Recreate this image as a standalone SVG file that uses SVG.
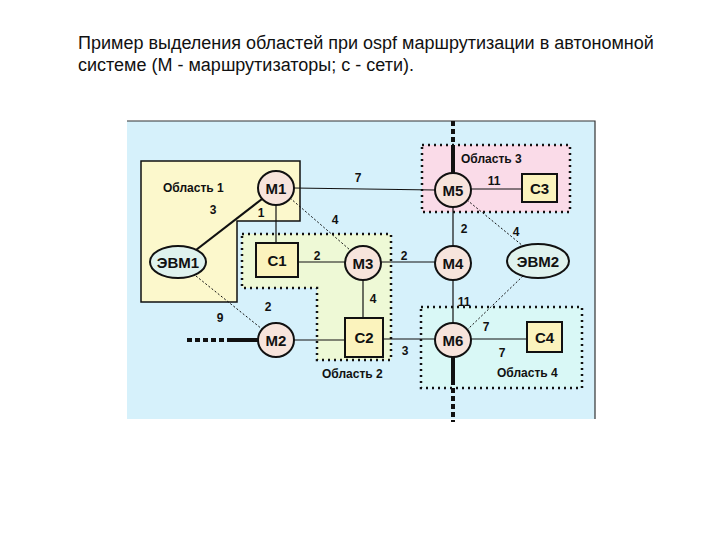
<svg xmlns="http://www.w3.org/2000/svg" width="720" height="540" viewBox="0 0 720 540">
<style>
.t{font-family:"Liberation Sans",Arial,sans-serif;font-size:18px;fill:#111}
.n{font-family:"Liberation Sans",Arial,sans-serif;font-size:15px;font-weight:bold;fill:#111;text-anchor:middle}
.l{font-family:"Liberation Sans",Arial,sans-serif;font-size:12px;font-weight:bold;fill:#111;text-anchor:middle}
.a{font-family:"Liberation Sans",Arial,sans-serif;font-size:12px;font-weight:bold;fill:#111}
.r{fill:#f7e4dc;stroke:#111;stroke-width:2}
.h{fill:#dff2ee;stroke:#111;stroke-width:2}
.c{fill:#fbf3bd;stroke:#111;stroke-width:2}
.ln{stroke:#111;stroke-width:1.2;fill:none}
.dt{stroke:#111;stroke-width:1;stroke-dasharray:2 2;fill:none}
.ar{stroke:#111;stroke-width:2.5;stroke-dasharray:2 4;fill:none}
</style>
<rect width="720" height="540" fill="#fff"/>
<text class="t" x="78" y="49">Пример выделения областей при ospf маршрутизации в автономной</text>
<text class="t" x="78" y="71">системе (М - маршрутизаторы; с - сети).</text>
<g id="panel">
<rect x="127" y="121" width="468" height="298" fill="#d6f1fb"/>
<path d="M127 121H595V419" fill="none" stroke="#333" stroke-width="1.2"/>
</g>
<g id="area1">
<path d="M141 161H300V221H237V302H141Z" fill="#fcf8cc" stroke="#111" stroke-width="1.5"/>
<text class="a" x="163" y="192">Область 1</text>
</g>
<g id="area2">
<path d="M242 234H391V360H317V288H242Z" fill="#eef9d6"/>
<path d="M242 234H391V360H317V288H242Z" class="ar"/>
<text class="a" x="322" y="378">Область 2</text>
</g>
<g id="area3">
<rect x="422" y="145" width="148" height="67" fill="#fadbe8"/>
<rect x="422" y="145" width="148" height="67" class="ar"/>
<text class="a" x="461" y="163">Область 3</text>
</g>
<g id="area4">
<rect x="421" y="307" width="161" height="81" fill="#d9f8f6"/>
<rect x="421" y="307" width="161" height="81" class="ar"/>
<text class="a" x="497" y="377">Область 4</text>
</g>
<g id="connectors">
<line class="ln" x1="294" y1="188" x2="435" y2="190"/>
<line x1="262" y1="199" x2="196" y2="250" stroke="#111" stroke-width="2.2"/>
<line class="ln" x1="276" y1="205" x2="276" y2="243"/>
<line class="dt" x1="290" y1="198" x2="350" y2="250"/>
<line class="ln" x1="298" y1="262" x2="345" y2="262"/>
<line class="ln" x1="381" y1="262" x2="435" y2="262"/>
<line class="ln" x1="453" y1="207" x2="453" y2="246"/>
<line class="dt" x1="467" y1="200" x2="523" y2="246"/>
<line class="ln" x1="471" y1="189" x2="522" y2="189"/>
<line class="ln" x1="363" y1="280" x2="363" y2="318"/>
<line class="ln" x1="453" y1="280" x2="453" y2="323"/>
<line class="dt" x1="523" y1="276" x2="467" y2="330"/>
<line class="ln" x1="383" y1="339" x2="435" y2="339"/>
<line class="ln" x1="471" y1="339" x2="527" y2="339"/>
<line class="dt" x1="196" y1="276" x2="262" y2="329"/>
<line class="ln" x1="294" y1="340" x2="345" y2="340"/>
<line x1="453" y1="121" x2="453" y2="150" stroke="#111" stroke-width="4" stroke-dasharray="5 3"/>
<line x1="453" y1="150" x2="453" y2="173" stroke="#111" stroke-width="4"/>
<line x1="453" y1="357" x2="453" y2="380" stroke="#111" stroke-width="4"/>
<line x1="453" y1="380" x2="453" y2="422" stroke="#111" stroke-width="4" stroke-dasharray="5 3"/>
<line x1="187" y1="340" x2="230" y2="340" stroke="#111" stroke-width="4" stroke-dasharray="5 3"/>
<line x1="230" y1="340" x2="259" y2="340" stroke="#111" stroke-width="4"/>
<text class="l" x="358" y="182">7</text>
<text class="l" x="213" y="214">3</text>
<text class="l" x="261" y="217">1</text>
<text class="l" x="335" y="224">4</text>
<text class="l" x="317" y="260">2</text>
<text class="l" x="404" y="260">2</text>
<text class="l" x="464" y="233">2</text>
<text class="l" x="516" y="236">4</text>
<text class="l" x="494" y="185">11</text>
<text class="l" x="373" y="303">4</text>
<text class="l" x="464" y="306">11</text>
<text class="l" x="486" y="331">7</text>
<text class="l" x="405" y="355">3</text>
<text class="l" x="502" y="357">7</text>
<text class="l" x="220" y="322">9</text>
<text class="l" x="268" y="311">2</text>
</g>
<g id="M1"><ellipse class="r" cx="276" cy="188" rx="18" ry="17"/><text class="n" x="276" y="194">М1</text></g>
<g id="M5"><ellipse class="r" cx="453" cy="190" rx="18" ry="17"/><text class="n" x="453" y="196">М5</text></g>
<g id="C3"><rect class="c" x="522" y="174" width="35" height="28"/><text class="n" x="539.5" y="194">С3</text></g>
<g id="EVM1"><ellipse class="h" cx="178" cy="262" rx="28" ry="16"/><text class="n" x="178" y="268">ЭВМ1</text></g>
<g id="C1"><rect class="c" x="256" y="243" width="42" height="34"/><text class="n" x="277" y="266">С1</text></g>
<g id="M3"><ellipse class="r" cx="363" cy="263" rx="18" ry="17"/><text class="n" x="363" y="269">М3</text></g>
<g id="M4"><ellipse class="r" cx="453" cy="263" rx="18" ry="17"/><text class="n" x="453" y="269">М4</text></g>
<g id="EVM2"><ellipse class="h" cx="538" cy="261" rx="31" ry="17"/><text class="n" x="538" y="267">ЭВМ2</text></g>
<g id="M2"><ellipse class="r" cx="276" cy="340" rx="18" ry="17"/><text class="n" x="276" y="346">М2</text></g>
<g id="C2"><rect class="c" x="345" y="318" width="38" height="39"/><text class="n" x="364" y="343">С2</text></g>
<g id="M6"><ellipse class="r" cx="453" cy="340" rx="18" ry="17"/><text class="n" x="453" y="346">М6</text></g>
<g id="C4"><rect class="c" x="527" y="322" width="35" height="30"/><text class="n" x="544.5" y="343">С4</text></g>
</svg>
